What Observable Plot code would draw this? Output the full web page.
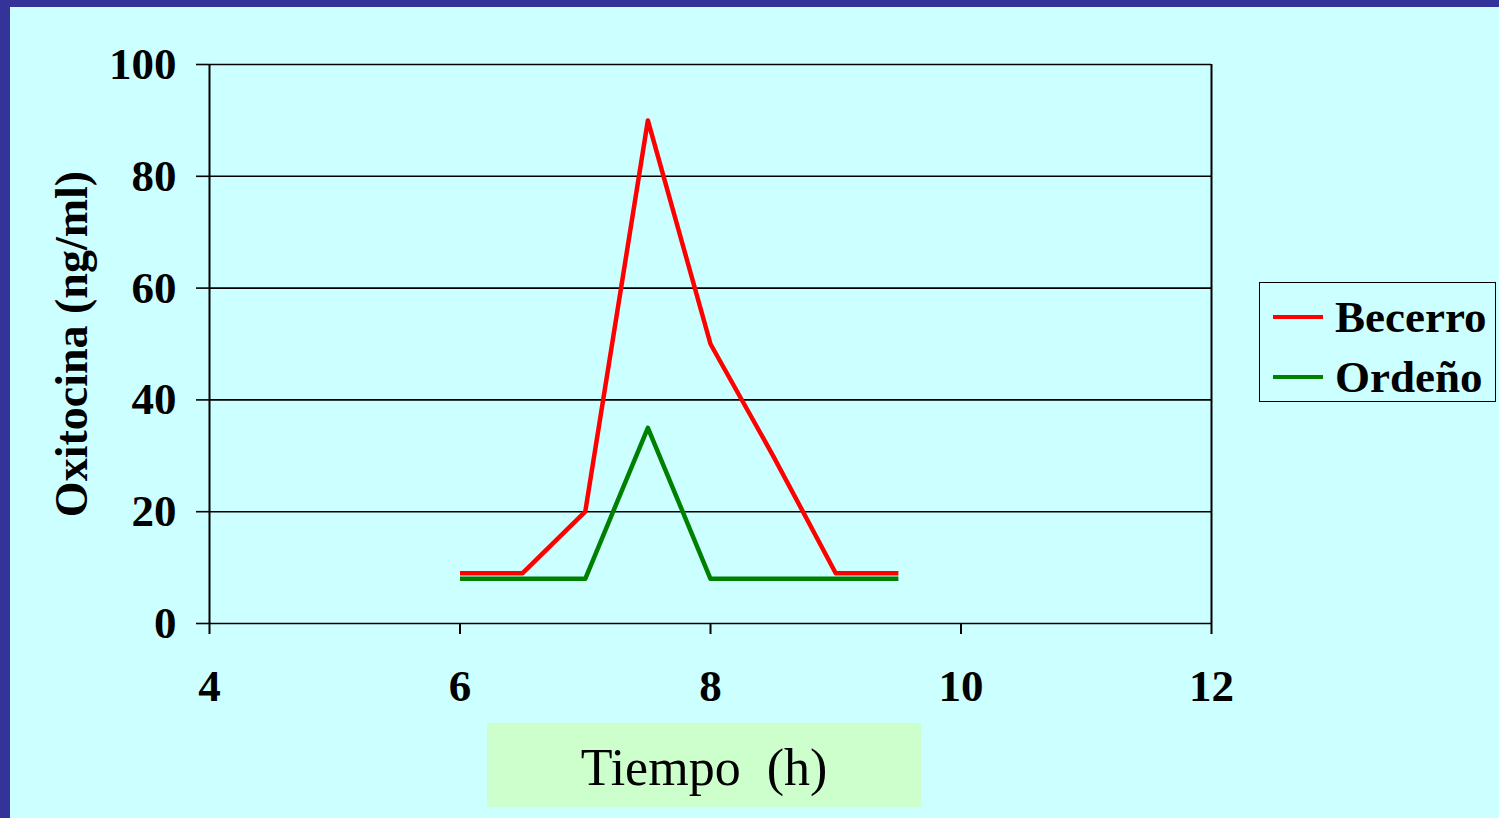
<!DOCTYPE html>
<html>
<head>
<meta charset="utf-8">
<script src="https://cdn.jsdelivr.net/npm/d3@7"></script>
<script src="https://cdn.jsdelivr.net/npm/@observablehq/plot@0.6"></script>
<style>
  html, body { margin: 0; padding: 0; }
  body { width: 1499px; height: 818px; background: #CCFFFF; position: relative; overflow: hidden; font-family: "Liberation Serif", "Times New Roman", serif; }
  .band-top { position: absolute; left: 0; top: 0; width: 1499px; height: 7px; background: #333399; }
  .band-left { position: absolute; left: 0; top: 0; width: 10px; height: 818px; background: #333399; }
  #chart { position: absolute; left: 0; top: 0; }
  .legend { position: absolute; left: 1259px; top: 282px; width: 235px; height: 118px; border: 1.5px solid #000; box-sizing: content-box; }
  .legend .row { position: absolute; left: 0; height: 50px; display: flex; align-items: center; }
  .legend .swatch { width: 50px; height: 4px; margin-left: 13px; margin-right: 12px; }
  .legend .name { font-weight: bold; font-size: 45px; color: #000; line-height: 50px; }
  .xlabel { position: absolute; left: 487px; top: 723px; width: 434px; height: 84px; background: #CCFFCC; font-size: 52px; color: #000; text-align: center; line-height: 90px; white-space: pre; }
</style>
</head>
<body>
<div id="chart"></div>
<div class="band-top"></div>
<div class="band-left"></div>
<div class="legend" id="legend"></div>
<div class="xlabel">Tiempo  (h)</div>
<script>
// Oxytocin concentration over time, for suckling (calf) vs. milking stimulus
const tiempo = [6, 6.5, 7, 7.5, 8, 8.5, 9, 9.5];
const becerro = [9, 9, 20, 90, 50, 30, 9, 9];
const ordeno = [8, 8, 8, 35, 8, 8, 8, 8];
const seriesNames = ["Becerro", "Ordeño"];
const seriesColors = ["#FF0000", "#008000"];
const xTicks = [4, 6, 8, 10, 12];
const yTicks = [0, 20, 40, 60, 80, 100];
const yTitle = "Oxitocina (ng/ml)";

const rows = [
  ...tiempo.map((t, i) => ({t, v: becerro[i], s: seriesNames[0]})),
  ...tiempo.map((t, i) => ({t, v: ordeno[i], s: seriesNames[1]}))
];

const chart = Plot.plot({
  width: 1499,
  height: 818,
  marginLeft: 209,
  marginRight: 288,
  marginTop: 64,
  marginBottom: 195,
  style: {background: "transparent", color: "#000", fontFamily: "Liberation Serif, Times New Roman, serif", fontWeight: "bold", overflow: "visible"},
  x: {domain: [4, 12]},
  y: {domain: [0, 100]},
  color: {domain: seriesNames, range: seriesColors},
  marks: [
    Plot.ruleY(yTicks, {stroke: "#000", strokeWidth: 1.6}),
    Plot.ruleX([xTicks[0], xTicks[xTicks.length - 1]], {y1: 0, y2: 100, stroke: "#000", strokeWidth: 2}),
    Plot.axisY({ticks: yTicks, tickSize: 13, tickPadding: 20, fontSize: 45, stroke: "#000", strokeWidth: 1.6, label: null}),
    Plot.axisX({ticks: xTicks, tickSize: 11, tickPadding: 35, fontSize: 45, stroke: "#000", strokeWidth: 2, label: null}),
    Plot.line(rows, {x: "t", y: "v", z: "s", stroke: "s", strokeWidth: 4.5, strokeLinejoin: "round", strokeLinecap: "butt"}),
    Plot.text([yTitle], {frameAnchor: "left", textAnchor: "middle", rotate: -90, dx: -137, fontSize: 46, fontWeight: "bold", fill: "#000", text: d => d})
  ]
});
document.getElementById("chart").appendChild(chart);

// Legend: a short coloured line next to each series name
const legend = document.getElementById("legend");
seriesNames.forEach((name, i) => {
  const row = document.createElement("div");
  row.className = "row";
  row.style.top = (9 + i * 60) + "px";
  const sw = document.createElement("div");
  sw.className = "swatch";
  sw.style.background = seriesColors[i];
  const label = document.createElement("span");
  label.className = "name";
  label.textContent = name;
  row.appendChild(sw);
  row.appendChild(label);
  legend.appendChild(row);
});
</script>
</body>
</html>
